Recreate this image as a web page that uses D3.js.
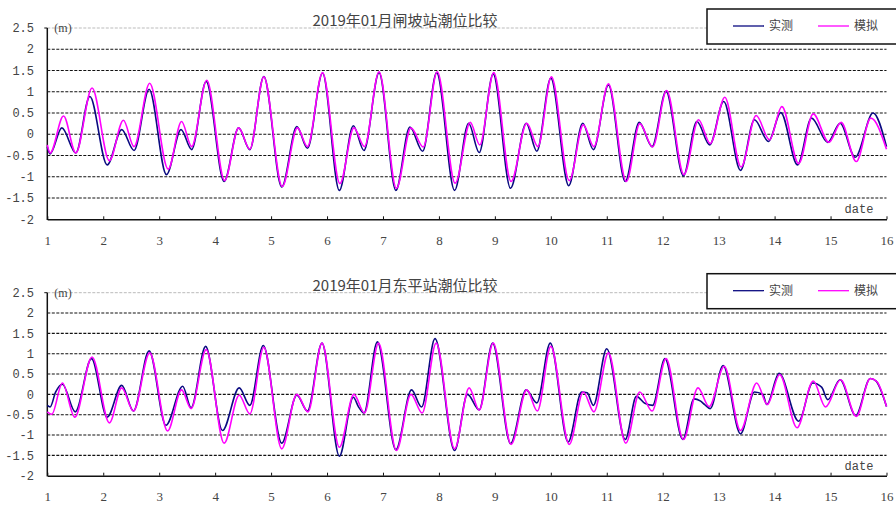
<!DOCTYPE html>
<html>
<head>
<meta charset="utf-8">
<script src="https://cdn.jsdelivr.net/npm/d3@7.9.0/dist/d3.min.js"></script>
<style>
  body { margin: 0; background: #fff; }
  svg { display: block; }
</style>
</head>
<body>
<svg id="chart" width="896" height="506"></svg>
<script>
// tick labels
const xTicks = d3.range(1, 17);
const yTicks = [-2, -1.5, -1, -0.5, 0, 0.5, 1, 1.5, 2, 2.5];
const seriesNames = ["实测", "模拟"];

// 闸坡站: [day, level] read at turning points
const zhapoObs = [
  [1.00, -0.30], [1.05, -0.46], [1.26, 0.15], [1.51, -0.44], [1.76, 0.89], [2.07, -0.72],
  [2.33, 0.11], [2.55, -0.38], [2.82, 1.06], [3.13, -0.95], [3.39, 0.11], [3.58, -0.36],
  [3.84, 1.24], [4.16, -1.11], [4.42, 0.15], [4.62, -0.36], [4.87, 1.36], [5.19, -1.24],
  [5.46, 0.18], [5.65, -0.33], [5.92, 1.44], [6.22, -1.32], [6.47, 0.20], [6.66, -0.38],
  [6.93, 1.45], [7.23, -1.32], [7.48, 0.17], [7.71, -0.40], [7.96, 1.45], [8.28, -1.32],
  [8.53, 0.26], [8.72, -0.43], [8.97, 1.42], [9.28, -1.27], [9.56, 0.26], [9.75, -0.40],
  [10.00, 1.32], [10.32, -1.21], [10.57, 0.26], [10.76, -0.36], [11.03, 1.16], [11.33, -1.11],
  [11.58, 0.28], [11.81, -0.29], [12.06, 1.01], [12.37, -0.98], [12.61, 0.30], [12.84, -0.25],
  [13.09, 0.77], [13.39, -0.85], [13.64, 0.34], [13.89, -0.17], [14.11, 0.51], [14.41, -0.72],
  [14.66, 0.38], [14.95, -0.19], [15.17, 0.26], [15.44, -0.54], [15.76, 0.50], [16.00, -0.29]
];
const zhapoSim = [
  [1.00, -0.25], [1.05, -0.44], [1.29, 0.43], [1.51, -0.44], [1.80, 1.09], [2.11, -0.62],
  [2.36, 0.33], [2.55, -0.29], [2.83, 1.20], [3.16, -0.82], [3.40, 0.30], [3.58, -0.29],
  [3.85, 1.27], [4.17, -1.09], [4.42, 0.15], [4.62, -0.35], [4.87, 1.35], [5.20, -1.23],
  [5.47, 0.15], [5.65, -0.29], [5.92, 1.45], [6.23, -1.16], [6.48, 0.15], [6.67, -0.29],
  [6.93, 1.47], [7.24, -1.27], [7.50, 0.15], [7.72, -0.30], [7.97, 1.47], [8.29, -1.15],
  [8.56, 0.28], [8.73, -0.25], [8.98, 1.45], [9.29, -1.11], [9.57, 0.26], [9.77, -0.29],
  [10.01, 1.35], [10.33, -1.09], [10.58, 0.22], [10.77, -0.29], [11.03, 1.19], [11.35, -1.11],
  [11.59, 0.25], [11.82, -0.30], [12.07, 1.03], [12.38, -0.95], [12.64, 0.34], [12.85, -0.22],
  [13.11, 0.87], [13.40, -0.77], [13.67, 0.44], [13.91, -0.13], [14.13, 0.65], [14.43, -0.69],
  [14.69, 0.48], [14.97, -0.19], [15.19, 0.28], [15.46, -0.64], [15.72, 0.38], [16.00, -0.35]
];

// 东平站
const dongpingObs = [
  [1.00, -0.27], [1.05, -0.31], [1.15, 0.06], [1.27, 0.25], [1.50, -0.43], [1.79, 0.88],
  [2.07, -0.56], [2.33, 0.22], [2.54, -0.41], [2.82, 1.07], [3.12, -0.76], [3.42, 0.20],
  [3.57, -0.33], [3.83, 1.18], [4.13, -0.89], [4.43, 0.16], [4.62, -0.27], [4.86, 1.20],
  [5.19, -1.20], [5.46, -0.02], [5.65, -0.41], [5.91, 1.26], [6.22, -1.52], [6.47, -0.07],
  [6.56, -0.30], [6.66, -0.46], [6.90, 1.29], [7.23, -1.36], [7.51, 0.11], [7.69, -0.31],
  [7.93, 1.37], [8.28, -1.38], [8.51, 0.00], [8.72, -0.38], [8.96, 1.26], [9.28, -1.21],
  [9.56, 0.11], [9.75, -0.21], [9.99, 1.26], [10.31, -1.17], [10.55, 0.06], [10.65, 0.04],
  [10.76, -0.27], [11.00, 1.12], [11.33, -1.11], [11.53, -0.05], [11.68, -0.22], [11.82, -0.27],
  [12.04, 0.88], [12.36, -1.11], [12.56, -0.11], [12.67, -0.16], [12.75, -0.25], [12.85, -0.35],
  [13.08, 0.71], [13.39, -0.97], [13.64, 0.06], [13.79, 0.00], [13.86, -0.25], [14.08, 0.52],
  [14.43, -0.66], [14.68, 0.28], [14.84, 0.18], [14.95, -0.13], [15.17, 0.36], [15.45, -0.52],
  [15.71, 0.39], [15.81, 0.33], [16.00, -0.30]
];
const dongpingSim = [
  [1.00, -0.43], [1.08, -0.49], [1.27, 0.28], [1.49, -0.56], [1.80, 0.92], [2.11, -0.70],
  [2.33, 0.16], [2.54, -0.41], [2.83, 1.02], [3.15, -0.90], [3.40, 0.11], [3.57, -0.35],
  [3.84, 1.10], [4.16, -1.20], [4.43, -0.02], [4.62, -0.48], [4.87, 1.16], [5.19, -1.34],
  [5.46, 0.00], [5.66, -0.43], [5.91, 1.26], [6.22, -1.30], [6.48, 0.00], [6.67, -0.46],
  [6.92, 1.26], [7.24, -1.38], [7.50, 0.00], [7.70, -0.46], [7.95, 1.26], [8.28, -1.34],
  [8.54, 0.16], [8.72, -0.39], [8.97, 1.26], [9.29, -1.23], [9.57, 0.11], [9.76, -0.41],
  [10.00, 1.18], [10.33, -1.23], [10.58, 0.06], [10.77, -0.43], [11.03, 1.02], [11.34, -1.20],
  [11.59, 0.06], [11.81, -0.41], [12.06, 0.88], [12.37, -1.11], [12.63, 0.16], [12.83, -0.30],
  [13.10, 0.69], [13.39, -0.89], [13.68, 0.28], [13.87, -0.25], [14.09, 0.49], [14.40, -0.82],
  [14.69, 0.33], [14.91, -0.31], [15.18, 0.36], [15.46, -0.54], [15.71, 0.39], [15.83, 0.31],
  [16.00, -0.30]
];

const svg = d3.select("#chart");
const x = d3.scaleLinear().domain([1, 16]).range([47.3, 886.5]);

function drawPanel(top, bottom, title, obs, sim) {
  const y = d3.scaleLinear().domain([-2, 2.5]).range([bottom, top]);
  const g = svg.append("g");

  // dashed grid lines
  g.selectAll(".grid")
    .data(yTicks.filter(d => d > -2 && d < 2.5))
    .enter().append("line")
    .attr("x1", x(1)).attr("x2", x(16))
    .attr("y1", d => y(d)).attr("y2", d => y(d))
    .attr("stroke", "#111")
    .attr("stroke-width", 1.1)
    .attr("stroke-dasharray", "3,1.5");

  // light top border
  g.append("line")
    .attr("x1", x(1)).attr("x2", x(16))
    .attr("y1", y(2.5)).attr("y2", y(2.5))
    .attr("stroke", "#bbb")
    .attr("stroke-dasharray", "3,1.5");

  // y tick labels
  g.selectAll(".ylab")
    .data(yTicks)
    .enter().append("text")
    .attr("x", 34)
    .attr("y", d => y(d))
    .attr("dy", "0.35em")
    .attr("text-anchor", "end")
    .attr("fill", "#444")
    .style("font", "12px 'Liberation Mono', monospace")
    .text(d => String(d));

  // axes
  const xAxis = g.append("g").attr("transform", `translate(0,${bottom})`)
    .call(d3.axisBottom(x).tickValues(xTicks).tickSizeInner(-3).tickSizeOuter(0).tickPadding(16));
  xAxis.select(".domain").attr("stroke", "#111").attr("stroke-width", 1.5);
  xAxis.selectAll(".tick line").attr("stroke", "#111");
  xAxis.selectAll("text")
    .attr("fill", "#444")
    .style("font", "13px 'Liberation Serif', serif");

  g.append("line")
    .attr("x1", x(1)).attr("x2", x(1))
    .attr("y1", y(2.5)).attr("y2", bottom + 0.75)
    .attr("stroke", "#111").attr("stroke-width", 1.5);
  g.append("line")
    .attr("x1", x(1) - 3).attr("x2", x(1))
    .attr("y1", y(2.5)).attr("y2", y(2.5))
    .attr("stroke", "#111");

  // unit + date labels
  g.append("text")
    .attr("x", 63).attr("y", y(2.5)).attr("dy", "0.35em")
    .attr("text-anchor", "middle")
    .attr("fill", "#444")
    .style("font", "12px 'Liberation Serif', serif")
    .text("(m)");
  g.append("text")
    .attr("x", 859).attr("y", y(-1.75)).attr("dy", "0.35em")
    .attr("text-anchor", "middle")
    .attr("fill", "#444")
    .style("font", "12px 'Liberation Mono', monospace")
    .text("date");

  // title
  g.append("text")
    .attr("x", 405).attr("y", top - 2)
    .attr("text-anchor", "middle")
    .attr("fill", "#444")
    .style("font", "15px 'Noto Sans CJK SC', sans-serif")
    .text(title);

  const line = d3.line()
    .curve(d3.curveMonotoneX)
    .x(d => x(d[0]))
    .y(d => y(d[1]));

  g.append("path").datum(obs)
    .attr("fill", "none").attr("stroke", "#0a0a80").attr("stroke-width", 1.6)
    .attr("d", line);
  g.append("path").datum(sim)
    .attr("fill", "none").attr("stroke", "#ff00ff").attr("stroke-width", 1.6)
    .attr("d", line);

  // legend
  const lg = g.append("g").attr("transform", `translate(707,${top - 19})`);
  lg.append("rect")
    .attr("x", 0).attr("y", 0).attr("width", 200).attr("height", 35)
    .attr("fill", "#fff").attr("stroke", "#111").attr("stroke-width", 1.5);
  const colors = ["#0a0a80", "#ff00ff"];
  seriesNames.forEach((name, i) => {
    lg.append("line")
      .attr("x1", 26 + i * 85).attr("x2", 57 + i * 85)
      .attr("y1", 17).attr("y2", 17)
      .attr("stroke", colors[i]).attr("stroke-width", 1.3);
    lg.append("text")
      .attr("x", 62 + i * 85).attr("y", 17).attr("dy", "0.35em")
      .attr("fill", "#444")
      .style("font", "12px 'Noto Sans CJK SC', sans-serif")
      .text(name);
  });
}

drawPanel(28, 219.3, "2019年01月闸坡站潮位比较", zhapoObs, zhapoSim);
drawPanel(292.7, 475.7, "2019年01月东平站潮位比较", dongpingObs, dongpingSim);
</script>
</body>
</html>
